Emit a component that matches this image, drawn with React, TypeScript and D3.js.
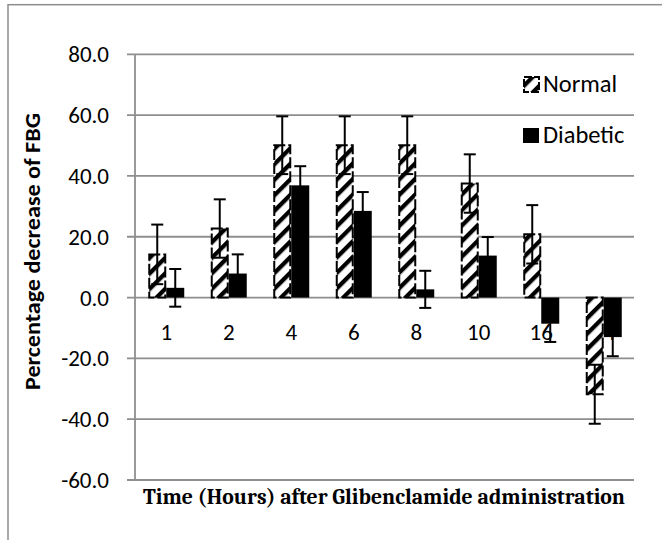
import React from 'react';
import * as d3 from 'd3';

const categories = ["1", "2", "4", "6", "8", "10", "16", "24"];
const seriesNames = ["Normal", "Diabetic"];
const normalValues = [14.2, 22.7, 50.1, 50.1, 50.1, 37.5, 20.8, -31.8];
const diabeticValues = [3.2, 7.9, 36.9, 28.5, 2.7, 13.8, -8.6, -13.0];
const normalErrors = [9.8, 9.6, 9.5, 9.5, 9.5, 9.6, 9.6, 9.7];
const diabeticErrors = [6.2, 6.3, 6.3, 6.2, 6.1, 6.1, 6.0, 6.3];
const yTicks = [80, 60, 40, 20, 0, -20, -40, -60];

const W = 662;
const H = 540;
const plotLeft = 135;
const plotRight = 634;
const plotTop = 54.3;
const plotBottom = 480;
const sansFont = "Carlito, Lato, 'Open Sans', sans-serif";
const serifFont = "Caladea, 'Liberation Serif', 'DejaVu Serif', serif";
const gridColor = "#8e8e8e";

const fmt = (t: number) => d3.format(".1f")(t).replace("\u2212", "-");

export default function App() {
  const y = d3.scaleLinear().domain([-60, 80]).range([plotBottom, plotTop]);
  const x0 = d3.scaleBand<string>().domain(categories).range([plotLeft, 635]).paddingInner(0).paddingOuter(0);
  const x1 = d3.scaleBand<string>().domain(seriesNames).range([0, x0.bandwidth()]).paddingInner(0).paddingOuter(0.736);
  const bw = x1.bandwidth();
  const series = [
    { name: "Normal", values: normalValues, errors: normalErrors },
    { name: "Diabetic", values: diabeticValues, errors: diabeticErrors },
  ];
  const capHalf = 6;

  return (
    <svg width={W} height={H} style={{ position: 'absolute', left: 0, top: 0, display: 'block', background: '#fff' }}>
      <defs>
        <pattern id="hatch" patternUnits="userSpaceOnUse" width={11} height={11} patternTransform="rotate(45)">
          <rect width={11} height={11} fill="#fff" />
          <rect width={4.3} height={11} fill="#000" />
        </pattern>
      </defs>
      <rect x={0} y={0} width={W} height={H} fill="#fff" />
      {/* outer frame */}
      <rect x={8} y={4.7} width={720} height={620} fill="none" stroke={gridColor} strokeWidth={1.5} />

      {/* gridlines and ticks */}
      {yTicks.map(t => (
        <g key={t}>
          <line x1={127} x2={plotRight} y1={y(t)} y2={y(t)} stroke={gridColor} strokeWidth={1.8} />
          <text x={109} y={y(t) + 8} textAnchor="end" fontFamily={sansFont} fontSize={23} fill="#000">
            {fmt(t)}
          </text>
        </g>
      ))}
      <line x1={plotLeft} x2={plotLeft} y1={plotTop} y2={plotBottom} stroke={gridColor} strokeWidth={1.8} />

      {/* category labels */}
      {categories.map(c => (
        <text key={c} x={(x0(c) as number) + x0.bandwidth() / 2} y={340} textAnchor="middle" fontFamily={sansFont} fontSize={23} fill="#000">
          {c}
        </text>
      ))}

      {/* bars */}
      {series.map(s => (
        <g key={s.name}>
          {categories.map((c, i) => {
            const v = s.values[i];
            const bx = (x0(c) as number) + (x1(s.name) as number);
            const by = Math.min(y(v), y(0));
            const bh = Math.abs(y(v) - y(0));
            return s.name === "Normal" ? (
              <rect key={c} x={bx + 1} y={by} width={bw - 2} height={bh} fill="url(#hatch)"
                stroke="#000" strokeWidth={2} strokeDasharray="11 3" />
            ) : (
              <rect key={c} x={bx} y={by} width={bw} height={bh} fill="#000" />
            );
          })}
        </g>
      ))}

      {/* error bars */}
      {series.map(s => (
        <g key={s.name + "err"}>
          {categories.map((c, i) => {
            const cx = (x0(c) as number) + (x1(s.name) as number) + bw / 2;
            const hi = y(s.values[i] + s.errors[i]);
            const lo = y(s.values[i] - s.errors[i]);
            return (
              <g key={c} stroke="#000" strokeWidth={2}>
                <line x1={cx} x2={cx} y1={hi} y2={lo} />
                <line x1={cx - capHalf} x2={cx + capHalf} y1={hi} y2={hi} />
                <line x1={cx - capHalf} x2={cx + capHalf} y1={lo} y2={lo} />
              </g>
            );
          })}
        </g>
      ))}

      {/* legend */}
      <rect x={524} y={77} width={15} height={15} fill="url(#hatch)" stroke="#000" strokeWidth={2} strokeDasharray="8 2" />
      <text x={543} y={92} fontFamily={sansFont} fontSize={24.5} fill="#000">Normal</text>
      <rect x={523} y={128} width={16} height={15} fill="#000" />
      <text x={543} y={143} fontFamily={sansFont} fontSize={24.5} fill="#000">Diabetic</text>

      {/* axis titles */}
      <text transform="translate(40,251.5) rotate(-90)" textAnchor="middle" fontFamily={sansFont} fontWeight="bold" fontSize={23}
        textLength={277} lengthAdjust="spacingAndGlyphs" fill="#000">
        Percentage decrease of FBG
      </text>
      <text x={384} y={504} textAnchor="middle" fontFamily={serifFont} fontWeight="bold" fontSize={21.5}
        textLength={482} lengthAdjust="spacingAndGlyphs" fill="#000">
        Time (Hours) after Glibenclamide administration
      </text>
    </svg>
  );
}
